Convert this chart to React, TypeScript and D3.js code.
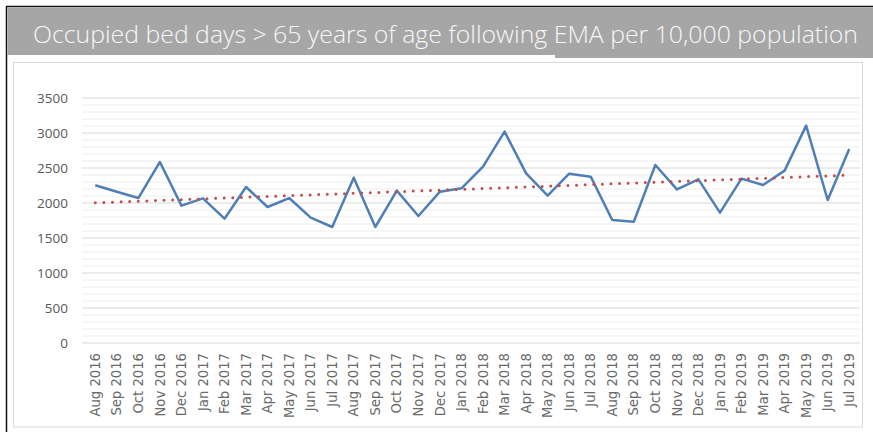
import React from "react";
import * as d3 from "d3";

const months = [
  "Aug 2016", "Sep 2016", "Oct 2016", "Nov 2016", "Dec 2016", "Jan 2017", "Feb 2017", "Mar 2017",
  "Apr 2017", "May 2017", "Jun 2017", "Jul 2017", "Aug 2017", "Sep 2017", "Oct 2017", "Nov 2017",
  "Dec 2017", "Jan 2018", "Feb 2018", "Mar 2018", "Apr 2018", "May 2018", "Jun 2018", "Jul 2018",
  "Aug 2018", "Sep 2018", "Oct 2018", "Nov 2018", "Dec 2018", "Jan 2019", "Feb 2019", "Mar 2019",
  "Apr 2019", "May 2019", "Jun 2019", "Jul 2019",
];
const bedDays = [
  2253, 2160, 2071, 2586, 1962, 2067, 1776, 2229,
  1943, 2071, 1790, 1657, 2362, 1657, 2176, 1814,
  2162, 2210, 2519, 3019, 2424, 2105, 2419, 2376,
  1757, 1733, 2543, 2195, 2338, 1862, 2348, 2257,
  2462, 3105, 2043, 2771,
];
const yTicks = [0, 500, 1000, 1500, 2000, 2500, 3000, 3500];
const titleText = "Occupied bed days > 65 years of age following EMA per 10,000 population";

const W = 873;
const H = 432;
const plot = { left: 84.5, right: 860, top: 98, bottom: 343 };

export default function App() {
  const x = d3.scaleBand<string>().domain(months).range([plot.left, plot.right]).padding(0);
  const cx = (m: string) => (x(m) ?? 0) + x.bandwidth() / 2;
  const y = d3.scaleLinear().domain([0, 3500]).range([plot.bottom, plot.top]);
  const minorTicks = d3.range(0, 3501, 100).filter((v) => v % 500 !== 0);

  const line = d3
    .line<number>()
    .x((_, i) => cx(months[i]))
    .y((d) => y(d));

  // linear trendline (least squares on the series)
  const idx = bedDays.map((_, i) => i);
  const mx = d3.mean(idx) as number;
  const my = d3.mean(bedDays) as number;
  const slope =
    d3.sum(idx.map((i) => (i - mx) * (bedDays[i] - my))) / d3.sum(idx.map((i) => (i - mx) * (i - mx)));
  const intercept = my - slope * mx;
  const trendStart = intercept;
  const trendEnd = intercept + slope * (months.length - 1);

  return (
    <svg width={W} height={H} style={{ position: "absolute", left: 0, top: 0, background: "#fff" }}>
      {/* outer black frame lines */}
      <line x1={6} y1={6.5} x2={W} y2={6.5} stroke="#111" strokeWidth={1.5} />
      <line x1={6.5} y1={6} x2={6.5} y2={H} stroke="#111" strokeWidth={1.5} />
      {/* title bar */}
      <rect x={7.5} y={7.5} width={W - 7.5} height={47.5} fill="#a6a6a6" />
      <rect x={555} y={54} width={W - 555} height={4} fill="#a6a6a6" />
      <text
        x={33}
        y={43}
        fill="#f7f7f7"
        fontFamily="'Open Sans', 'Liberation Sans', sans-serif"
        fontWeight={300}
        fontSize={24}
        textLength={825}
        lengthAdjust="spacingAndGlyphs"
      >
        {titleText}
      </text>
      {/* chart panel */}
      <rect x={13.5} y={62.5} width={849} height={364.5} fill="#fff" stroke="#d9d9d9" strokeWidth={1} />

      {/* gridlines */}
      {minorTicks.map((v) => (
        <line key={"m" + v} x1={82} x2={plot.right} y1={y(v)} y2={y(v)} stroke="#eeeeee" strokeWidth={1} />
      ))}
      {yTicks.map((v) => (
        <line key={"g" + v} x1={82} x2={plot.right} y1={y(v)} y2={y(v)} stroke="#d9d9d9" strokeWidth={1} />
      ))}
      {/* y labels */}
      {yTicks.map((v) => (
        <text
          key={"t" + v}
          x={68}
          y={y(v)}
          dy="0.35em"
          textAnchor="end"
          fill="#595959"
          fontFamily="'Open Sans', sans-serif"
          fontSize={13.5}
        >
          {v}
        </text>
      ))}
      {/* x labels */}
      {months.map((m) => (
        <text
          key={m}
          transform={`translate(${cx(m)},${353}) rotate(-90)`}
          textAnchor="end"
          dy="0.35em"
          fill="#6a6a6a"
          fontFamily="'DejaVu Sans', sans-serif"
          fontSize={13.2}
        >
          {m}
        </text>
      ))}

      {/* series line */}
      <path d={line(bedDays) ?? ""} fill="none" stroke="#4f7fb6" strokeWidth={2.5} strokeLinejoin="round" />
      {/* trendline */}
      <line
        x1={cx(months[0])}
        y1={y(trendStart)}
        x2={cx(months[months.length - 1])}
        y2={y(trendEnd)}
        stroke="#c0504d"
        strokeWidth={3}
        strokeDasharray="0 8.6"
        strokeLinecap="round"
      />
    </svg>
  );
}
